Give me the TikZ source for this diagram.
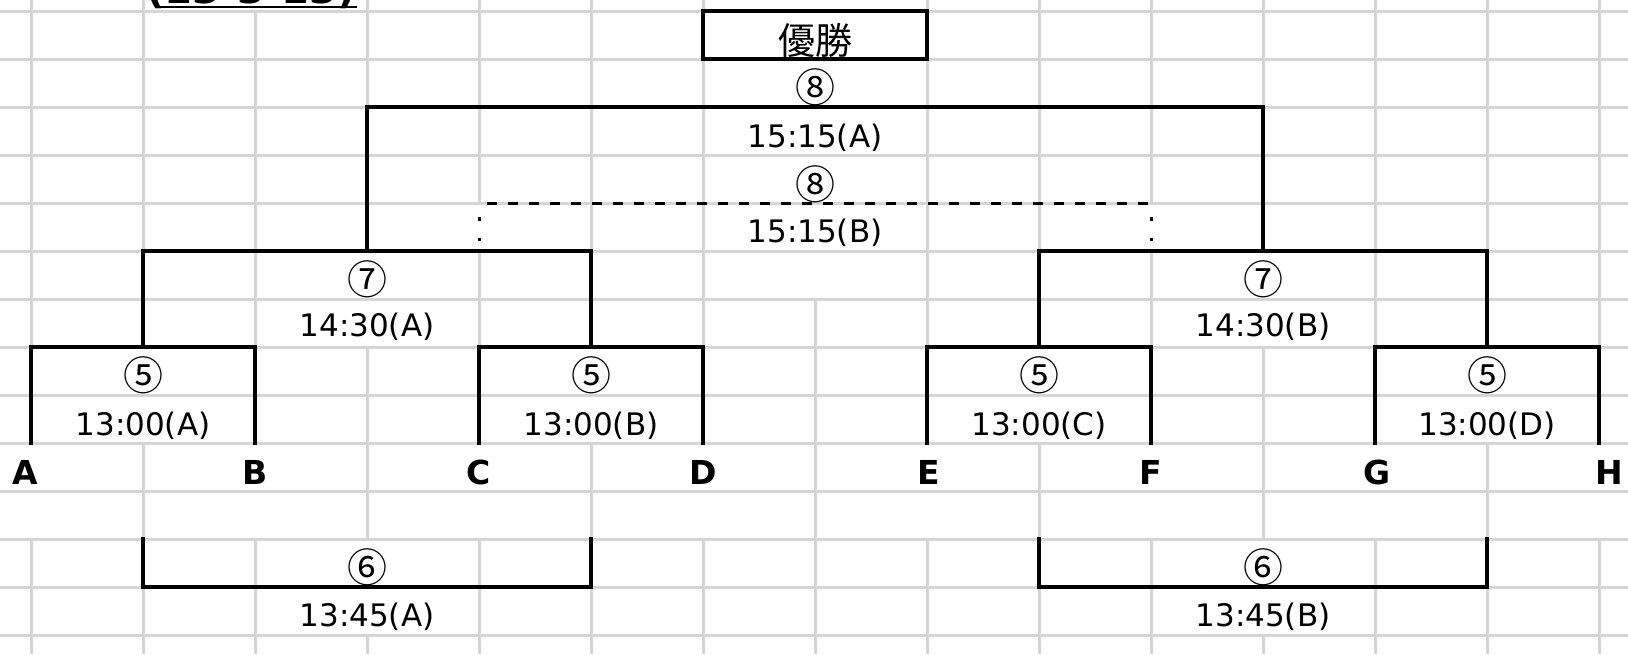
\documentclass[tikz,border=0pt]{standalone}
\usepackage{fontspec}
\setmainfont{DejaVu Sans}
\newfontfamily\jpfont{Noto Sans CJK JP}
\definecolor{gridgray}{RGB}{212,212,218}
\tikzset{
  gridline/.style={draw=gridgray, line width=1.5pt},
  bracket/.style={draw=black, line width=1.9pt, line cap=rect, line join=miter},
  dashedborder/.style={draw=black, line width=1.5pt, dash pattern=on 5pt off 5.5pt, dash phase=6.5pt},
  circnum/.style={inner sep=0pt, font=\jpfont\fontsize{20pt}{22pt}\selectfont},
  timetxt/.style={inner sep=0pt, font=\fontsize{15.5pt}{17pt}\selectfont},
  team/.style={inner sep=0pt, font=\bfseries\fontsize{16.5pt}{18pt}\selectfont},
  title/.style={inner sep=0pt, font=\jpfont\fontsize{18.5pt}{20pt}\selectfont}
}
\begin{document}
\begin{tikzpicture}[x=0.5pt,y=-0.5pt]
\useasboundingbox (0,0) rectangle (1628,654);
\fill[white] (0,0) rectangle (1628,654);

% horizontal grid lines
\foreach \yy in {11,59,107,155,203,251,299,347,395,443,491,539,587,635}
  \draw[gridline] (0,\yy) -- (1628,\yy);
% vertical grid line segments (x/y1/y2)
\foreach \xx/\ya/\yb in {
  31/0/347, 31/539/654,
  143/0/251, 143/443/539, 143/587/654,
  255/11/347, 255/539/654,
  367/0/107, 367/347/539, 367/635/654,
  479/0/203, 479/251/347, 479/539/654,
  591/0/251, 591/443/539, 591/587/654,
  703/0/11, 703/59/347, 703/539/654,
  815/299/654,
  927/0/11, 927/59/347, 927/539/654,
  1039/0/251, 1039/443/539, 1039/587/654,
  1151/0/203, 1151/251/347, 1151/539/654,
  1263/0/107, 1263/347/539, 1263/635/654,
  1375/0/347, 1375/539/654,
  1487/0/251, 1487/443/539, 1487/587/654,
  1599/0/347, 1599/539/654}
  \draw[gridline] (\xx,\ya) -- (\xx,\yb);

% cut-off title at the top
\node[inner sep=0pt, anchor=base, font=\bfseries\fontsize{20pt}{22pt}\selectfont] (title) at (251,3.5) {(13-3-13)};
\draw[line width=1pt] (157,7) -- (357,7);

% winner box
\node[draw=black, line width=1.9pt, minimum width=112pt, minimum height=24pt, inner sep=0pt] (winbox) at (815,35) {};
\node[title] (win) at (815,40) {優勝};

% team labels
\node[team] (A) at (25,472) {A};
\node[team] (B) at (255,472) {B};
\node[team] (C) at (479,472) {C};
\node[team] (D) at (703,472) {D};
\node[team] (E) at (929,472) {E};
\node[team] (F) at (1151,472) {F};
\node[team] (G) at (1377,472) {G};
\node[team] (H) at (1609,472) {H};

% bracket corner coordinates
\coordinate (a) at (31,443);  \coordinate (b) at (255,443);
\coordinate (c) at (479,443); \coordinate (d) at (703,443);
\coordinate (e) at (927,443); \coordinate (f) at (1151,443);
\coordinate (g) at (1375,443);\coordinate (h) at (1599,443);

% round 5
\draw[bracket] (a) -- (31,347) -- (255,347) -- (b);
\draw[bracket] (c) -- (479,347) -- (703,347) -- (d);
\draw[bracket] (e) -- (927,347) -- (1151,347) -- (f);
\draw[bracket] (g) -- (1375,347) -- (1599,347) -- (h);
% round 7
\draw[bracket] (143,347) -- (143,251) -- (591,251) -- (591,347);
\draw[bracket] (1039,347) -- (1039,251) -- (1487,251) -- (1487,347);
% final 8
\draw[bracket] (367,251) -- (367,107) -- (1263,107) -- (1263,251);
% 3rd place 8 (dashed)
\draw[dashedborder] (479,203) -- (1151,203);
\foreach \xx in {479,1151}{
  \draw[black, line width=1.5pt] (\xx,217) -- (\xx,220.5);
  \draw[black, line width=1.5pt] (\xx,237.5) -- (\xx,241);
}
% round 6
\draw[bracket] (143,539) -- (143,587) -- (591,587) -- (591,539);
\draw[bracket] (1039,539) -- (1039,587) -- (1487,587) -- (1487,539);

% labels
\node[circnum] (m8a) at (815,87) {⑧};
\node[timetxt] (t8a) at (815,138) {15:15(A)};
\node[circnum] (m8b) at (815,184) {⑧};
\node[timetxt] (t8b) at (815,233) {15:15(B)};
\node[circnum] (m7a) at (367,279) {⑦};
\node[timetxt] (t7a) at (367,327) {14:30(A)};
\node[circnum] (m7b) at (1263,279) {⑦};
\node[timetxt] (t7b) at (1263,327) {14:30(B)};
\node[circnum] (m5a) at (143,375) {⑤};
\node[timetxt] (t5a) at (143,426) {13:00(A)};
\node[circnum] (m5b) at (591,375) {⑤};
\node[timetxt] (t5b) at (591,426) {13:00(B)};
\node[circnum] (m5c) at (1039,375) {⑤};
\node[timetxt] (t5c) at (1039,426) {13:00(C)};
\node[circnum] (m5d) at (1487,375) {⑤};
\node[timetxt] (t5d) at (1487,426) {13:00(D)};
\node[circnum] (m6a) at (367,567) {⑥};
\node[timetxt] (t6a) at (367,617) {13:45(A)};
\node[circnum] (m6b) at (1263,567) {⑥};
\node[timetxt] (t6b) at (1263,617) {13:45(B)};
\end{tikzpicture}
\end{document}
